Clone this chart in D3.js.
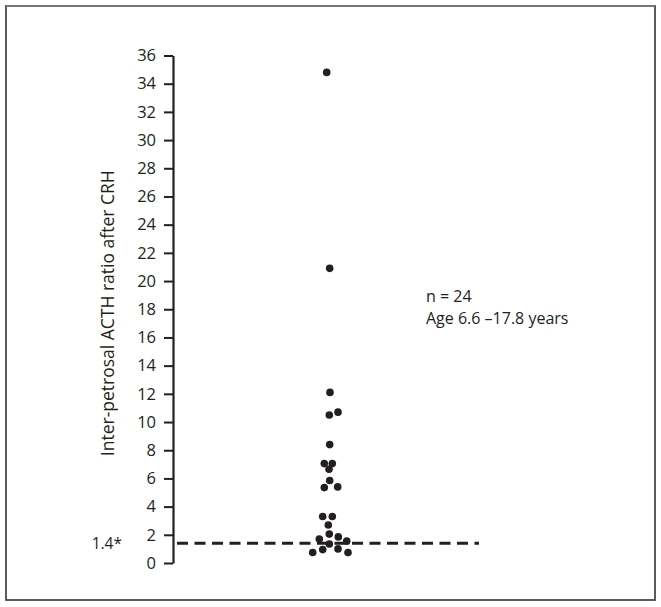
<!DOCTYPE html>
<html>
<head>
<meta charset="utf-8">
<script src="https://cdn.jsdelivr.net/npm/d3@7"></script>
<style>
  body { margin: 0; background: #fff; }
  text { font-family: "Open Sans", "Noto Sans", sans-serif; fill: #231f20; }
</style>
</head>
<body>
<div id="chart"></div>
<script>
// Ratio values (24 patients)
var ratios = [34.8, 20.9, 12.1, 10.5, 10.7, 8.4, 7.05, 7.05, 6.65, 5.85, 5.35, 5.4,
  3.3, 3.3, 2.7, 2.05, 1.85, 1.7, 1.55, 1.35, 0.75, 0.95, 1.0, 0.75];
// horizontal spread of each dot (beeswarm offset from the column centre)
var offsets = [-2.8, 0.2, 0.5, -0.2, 8.5, 0.2, -5.2, 2.8, -0.5, 0.2, -5.2, 8.2,
  -6.8, 2.8, -1.2, -0.2, 8.8, -10.2, 17.2, -0.2, -16.8, -6.8, 8.5, 18.5];
var yTicks = d3.range(0, 37, 2);
var cutoff = 1.4;
var cutoffLabel = "1.4*";
var yTitle = "Inter-petrosal ACTH ratio after CRH";
var notes = ["n = 24", "Age 6.6 \u201317.8 years"];

// Setup chart dimensions
var svgWidth = 661;
var svgHeight = 607;

var svg = d3.select("#chart")
  .append("svg")
  .attr("width", svgWidth)
  .attr("height", svgHeight);

// frame round the figure (top edge lighter, like the scan)
svg.append("rect")
  .attr("x", 6)
  .attr("y", 6)
  .attr("width", 649)
  .attr("height", 594)
  .attr("fill", "none")
  .attr("stroke", "#4a4a4a")
  .attr("stroke-width", 1.8);
svg.append("line")
  .attr("x1", 6).attr("x2", 655)
  .attr("y1", 6).attr("y2", 6)
  .attr("stroke", "#777")
  .attr("stroke-width", 2);

// scales
var yScale = d3.scaleLinear().domain([0, 36]).range([563, 55.5]);
var xScale = d3.scaleLinear().domain([-20, 20]).range([309.5, 349.5]);
var axisX = 173;

// y axis
var leftAxis = d3.axisLeft(yScale)
  .tickValues(yTicks)
  .tickSize(9)
  .tickSizeOuter(0)
  .tickPadding(8);

var yAxis = svg.append("g")
  .attr("transform", `translate(${axisX}, 0)`)
  .call(leftAxis);

yAxis.select(".domain").attr("stroke", "#231f20").attr("stroke-width", 2.2);
yAxis.selectAll(".tick line").attr("stroke", "#231f20").attr("stroke-width", 2);
yAxis.selectAll(".tick text")
  .style("font-family", "'Open Sans', sans-serif")
  .style("font-size", "16.5px")
  .attr("fill", "#231f20");

// y axis title
svg.append("text")
  .attr("transform", `translate(113.5, ${(yScale(0) + yScale(36)) / 2 + 4}) rotate(-90)`)
  .attr("text-anchor", "middle")
  .style("font-size", "17.5px")
  .text(yTitle);

// dashed cut-off line
svg.append("line")
  .attr("x1", axisX + 4)
  .attr("x2", 479)
  .attr("y1", yScale(cutoff))
  .attr("y2", yScale(cutoff))
  .attr("stroke", "#231f20")
  .attr("stroke-width", 3)
  .attr("stroke-dasharray", "11,6.5");

svg.append("text")
  .attr("x", 122)
  .attr("y", yScale(cutoff))
  .attr("dy", "0.35em")
  .attr("text-anchor", "end")
  .style("font-size", "15.5px")
  .text(cutoffLabel);

// dots
var data = ratios.map(function(v, i) { return { value: v, off: offsets[i] }; });

svg.selectAll("circle.dot")
  .data(data)
  .enter()
  .append("circle")
  .attr("class", "dot")
  .attr("cx", d => xScale(d.off))
  .attr("cy", d => yScale(d.value))
  .attr("r", 3.8)
  .attr("fill", "#231f20");

// annotation
svg.selectAll("text.note")
  .data(notes)
  .enter()
  .append("text")
  .attr("class", "note")
  .attr("x", 426)
  .attr("y", (d, i) => 302 + i * 22)
  .style("font-size", "16px")
  .text(d => d);
</script>
</body>
</html>
